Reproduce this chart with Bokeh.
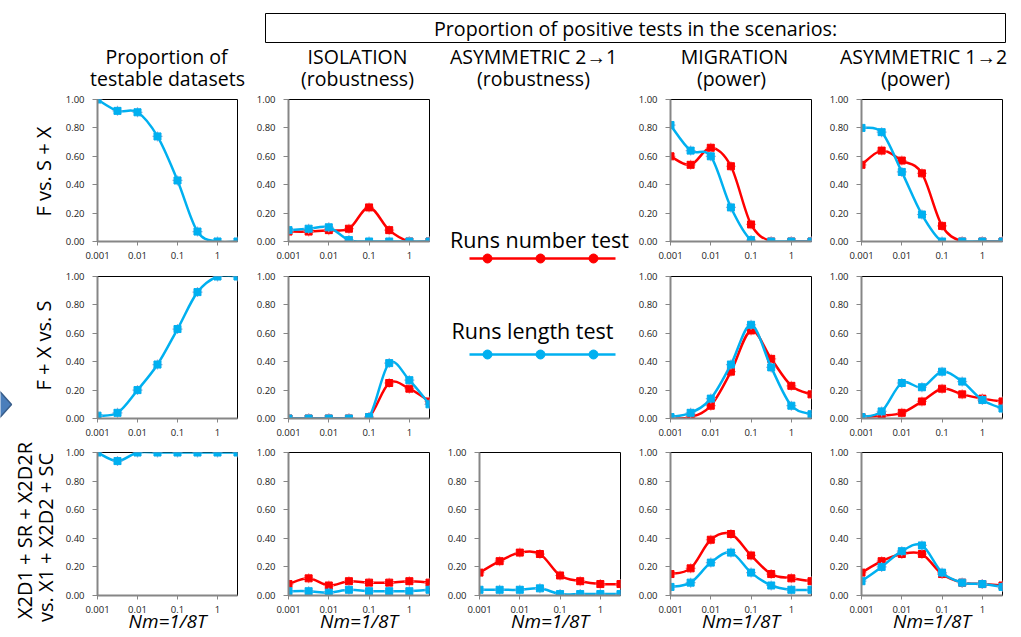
import math
from bokeh.plotting import figure
from bokeh.layouts import row, column
from bokeh.models import Range1d, FixedTicker, NumeralTickFormatter, CustomJSTickFormatter
from bokeh.core.properties import value
from bokeh.embed import file_html
from bokeh.resources import INLINE

# ---------------- data ----------------
nm = [0.001, 0.00316, 0.01, 0.0316, 0.1, 0.316, 1.0, 3.16]
x_ticks = [0.001, 0.01, 0.1, 1]
y_ticks = [0, 0.2, 0.4, 0.6, 0.8, 1.0]

row_labels = ["F vs. S + X", "F + X vs. S"]
row3_label_a = "X2D1 + SR + X2D2R"
row3_label_b = "vs. X1 + X2D2 + SC"
col_titles = [("Proportion of", "testable datasets"),
              ("ISOLATION", "(robustness)"),
              ("ASYMMETRIC 2\u21921", "(robustness)"),
              ("MIGRATION", "(power)"),
              ("ASYMMETRIC 1\u21922", "(power)")]
box_title = "Proportion of positive tests in the scenarios:"
legend_labels = ["Runs number test", "Runs length test"]
x_label = "Nm=1/8T"

# proportion of testable datasets
testable_1 = [1.00, 0.92, 0.91, 0.74, 0.43, 0.07, 0.00, 0.00]
testable_2 = [0.02, 0.04, 0.20, 0.38, 0.63, 0.89, 1.00, 1.00]
testable_3 = [1.00, 0.94, 1.00, 1.00, 1.00, 1.00, 1.00, 1.00]

# row 1: F vs. S + X
iso_number_1 = [0.07, 0.07, 0.08, 0.09, 0.24, 0.08, 0.00, 0.00]
iso_length_1 = [0.08, 0.09, 0.10, 0.01, 0.00, 0.00, 0.00, 0.00]
mig_number_1 = [0.60, 0.54, 0.66, 0.53, 0.12, 0.00, 0.00, 0.00]
mig_length_1 = [0.82, 0.64, 0.60, 0.24, 0.01, 0.00, 0.00, 0.00]
a12_number_1 = [0.54, 0.64, 0.57, 0.48, 0.11, 0.00, 0.00, 0.00]
a12_length_1 = [0.80, 0.77, 0.49, 0.19, 0.00, 0.00, 0.00, 0.00]

# row 2: F + X vs. S
iso_number_2 = [0.00, 0.00, 0.00, 0.00, 0.01, 0.25, 0.21, 0.12]
iso_length_2 = [0.00, 0.00, 0.00, 0.00, 0.01, 0.39, 0.27, 0.10]
mig_number_2 = [0.00, 0.01, 0.09, 0.33, 0.62, 0.42, 0.23, 0.17]
mig_length_2 = [0.01, 0.04, 0.14, 0.38, 0.66, 0.36, 0.09, 0.03]
a12_number_2 = [0.01, 0.02, 0.04, 0.12, 0.21, 0.17, 0.14, 0.12]
a12_length_2 = [0.01, 0.05, 0.25, 0.22, 0.33, 0.26, 0.13, 0.07]

# row 3: X2D1 + SR + X2D2R vs. X1 + X2D2 + SC
iso_number_3 = [0.08, 0.12, 0.07, 0.10, 0.09, 0.09, 0.10, 0.09]
iso_length_3 = [0.03, 0.03, 0.02, 0.04, 0.03, 0.03, 0.03, 0.04]
a21_number_3 = [0.16, 0.24, 0.30, 0.29, 0.14, 0.10, 0.08, 0.08]
a21_length_3 = [0.04, 0.04, 0.04, 0.05, 0.01, 0.01, 0.01, 0.01]
mig_number_3 = [0.15, 0.19, 0.39, 0.43, 0.28, 0.15, 0.12, 0.10]
mig_length_3 = [0.06, 0.09, 0.23, 0.30, 0.16, 0.07, 0.04, 0.04]
a12_number_3 = [0.16, 0.24, 0.29, 0.29, 0.15, 0.09, 0.08, 0.07]
a12_length_3 = [0.10, 0.20, 0.31, 0.35, 0.16, 0.09, 0.08, 0.06]

# ---------------- style ----------------
FONT = "Open Sans"
RED = "#FF0000"
BLUE = "#00B0F0"
RED_HALO = "#FF9090"
BLUE_HALO = "#A8A8D0"
AXIS_GRAY = "#868686"
TXT = "#000000"


def smooth_segments(xs, ys):
    """Excel-like smoothing: cubic Bezier control points (Catmull-Rom, 1/6)."""
    u = [math.log10(v) for v in xs]
    pts = list(zip(u, ys))
    n = len(pts)
    seg = dict(x0=[], y0=[], x1=[], y1=[], cx0=[], cy0=[], cx1=[], cy1=[])
    for i in range(n - 1):
        p0 = pts[i - 1] if i > 0 else pts[i]
        p1 = pts[i]
        p2 = pts[i + 1]
        p3 = pts[i + 2] if i + 2 < n else pts[i + 1]
        c0 = (p1[0] + (p2[0] - p0[0]) / 6.0, p1[1] + (p2[1] - p0[1]) / 6.0)
        c1 = (p2[0] - (p3[0] - p1[0]) / 6.0, p2[1] - (p3[1] - p1[1]) / 6.0)
        seg["x0"].append(10 ** p1[0]); seg["y0"].append(p1[1])
        seg["x1"].append(10 ** p2[0]); seg["y1"].append(p2[1])
        seg["cx0"].append(10 ** c0[0]); seg["cy0"].append(c0[1])
        seg["cx1"].append(10 ** c1[0]); seg["cy1"].append(c1[1])
    return seg


def panel(width, bl, br, height, bt, bb, series, with_xlabel=False):
    p = figure(width=width, height=height, x_axis_type="log",
               x_range=Range1d(0.001, 10 ** 0.5), y_range=Range1d(0, 1),
               toolbar_location=None, tools="", output_backend="svg", title=None,
               min_border_left=bl, min_border_right=br,
               min_border_top=bt, min_border_bottom=bb)
    p.grid.visible = False
    p.outline_line_color = "black"
    p.outline_line_width = 1
    p.background_fill_color = "white"
    p.border_fill_color = "white"

    xa = p.xaxis[0]
    ya = p.yaxis[0]
    xa.ticker = FixedTicker(ticks=x_ticks)
    xa.formatter = CustomJSTickFormatter(code="return tick.toString();")
    ya.ticker = FixedTicker(ticks=y_ticks)
    ya.formatter = NumeralTickFormatter(format="0.00")
    for ax in (xa, ya):
        ax.axis_line_color = AXIS_GRAY
        ax.axis_line_width = 2
        ax.major_tick_line_color = AXIS_GRAY
        ax.major_tick_line_width = 1
        ax.major_tick_in = 0
        ax.minor_tick_line_color = None
        ax.major_label_text_font = FONT
        ax.major_label_text_font_size = "9.5px"
        ax.major_label_text_color = "#222222"
    ya.major_tick_out = 5
    ya.major_label_standoff = 8
    xa.major_tick_out = 4
    xa.major_label_standoff = 6
    if with_xlabel:
        xa.axis_label = x_label
        xa.axis_label_text_font = FONT
        xa.axis_label_text_font_style = "italic"
        xa.axis_label_text_font_size = "19px"
        xa.axis_label_text_color = TXT
        xa.axis_label_standoff = -8

    for ys, color, halo in series:
        seg = smooth_segments(nm, ys)
        p.bezier(x0=seg["x0"], y0=seg["y0"], x1=seg["x1"], y1=seg["y1"],
                 cx0=seg["cx0"], cy0=seg["cy0"], cx1=seg["cx1"], cy1=seg["cy1"],
                 line_color=color, line_width=2.5)
        p.scatter(nm, ys, marker="asterisk", size=10, line_color=halo, line_width=1.2)
        p.scatter(nm, ys, marker="square", size=7, fill_color=color, line_color=color)
    return p


def blank(width, height, x0, x1, y_top, y_bottom, bt=0, bb=0):
    p = figure(width=width, height=height, x_range=Range1d(x0, x1),
               y_range=Range1d(y_bottom, y_top), x_axis_location=None,
               y_axis_location=None, toolbar_location=None, tools="",
               output_backend="svg", title=None, min_border_left=0,
               min_border_right=0, min_border_top=bt, min_border_bottom=bb)
    p.grid.visible = False
    p.outline_line_color = None
    p.background_fill_color = "white"
    p.border_fill_color = "white"
    return p


def txt(p, x, y, s, size, align="center", baseline="alphabetic", angle=0.0, style="normal"):
    p.text(x=[x], y=[y], text=[s], angle=angle, text_align=align,
           text_baseline=baseline, text_font=value(FONT),
           text_font_size=value(size), text_color=TXT, text_font_style=style)


# ---------------- geometry (page pixels, page origin at 0,0) ----------------
HEAD_H = 92                      # header: y 0..92
LEFT_W = 62                      # row-label strip: x 0..62
R1 = (177, 7, 28)                # height, top border, bottom border -> frame 99..241
R2 = (176, 7, 27)                # frame 276..418
R3 = (191, 7, 41)                # frame 452..595
TOP_Y = HEAD_H
TOTAL_H = R1[0] + R2[0] + R3[0]
BASE_FIX = 7                     # alphabetic-baseline correction of the text glyph

# header
head = blank(1016, HEAD_H, 0, 1016, 0, HEAD_H)
head.quad(left=[265], right=[1005], top=[13], bottom=[42],
          fill_color=None, line_color="black", line_width=1)
txt(head, 635, 35 - BASE_FIX, box_title, "19.7px")
centers1 = [166, 357, 533, 734, 923]
centers2 = [167, 357, 533, 731, 915]
for (t1, t2), c1, c2 in zip(col_titles, centers1, centers2):
    txt(head, c1, 63 - BASE_FIX, t1, "19.5px")
    txt(head, c2, 85 - BASE_FIX, t2, "19.5px")

# row labels strip
lab = blank(LEFT_W, TOTAL_H, 0, LEFT_W, TOP_Y, TOP_Y + TOTAL_H)
lab.patch(x=[-6, 11, -6], y=[385, 404, 423], fill_color="#4A7EBB", line_color="#385D8A", line_width=1.5)
txt(lab, 43, 171, row_labels[0], "20px", baseline="middle", angle=math.pi / 2)
txt(lab, 43, 345, row_labels[1], "20px", baseline="middle", angle=math.pi / 2)
txt(lab, 24, 530, row3_label_a, "20px", baseline="middle", angle=math.pi / 2)
txt(lab, 45, 537, row3_label_b, "20px", baseline="middle", angle=math.pi / 2)

blue_only = lambda ys: [(ys, BLUE, BLUE_HALO)]
pair = lambda a, b: [(a, RED, RED_HALO), (b, BLUE, BLUE_HALO)]


def col_pair(w, bl, br, s1, s2):
    return column(panel(w, bl, br, R1[0], R1[1], R1[2], s1),
                  panel(w, bl, br, R2[0], R2[1], R2[2], s2))


# legend block (column 3, rows 1-2); frame spans page y 99..418
leg_top = TOP_Y + R1[1]
leg_bottom = TOP_Y + R1[0] + R2[0] - R2[2]
leg = blank(202, R1[0] + R2[0], 430, 632, leg_top, leg_bottom, bt=R1[1], bb=R2[2])
txt(leg, 539, 246 - BASE_FIX, legend_labels[0], "21.5px")
leg.line([469, 615], [258, 258], line_color=RED, line_width=2.5)
leg.scatter([487, 540, 593], [258, 258, 258], marker="circle", size=9, fill_color=RED, line_color=RED)
txt(leg, 532, 337 - BASE_FIX, legend_labels[1], "21.5px")
leg.line([469, 615], [354, 354], line_color=BLUE, line_width=2.5)
leg.scatter([487, 540, 593], [354, 354, 354], marker="circle", size=9, fill_color=BLUE, line_color=BLUE)

top_block = row(
    col_pair(177, 34, 2, blue_only(testable_1), blue_only(testable_2)),
    col_pair(191, 49, 1, pair(iso_number_1, iso_length_1), pair(iso_number_2, iso_length_2)),
    leg,
    col_pair(180, 38, 1, pair(mig_number_1, mig_length_1), pair(mig_number_2, mig_length_2)),
    col_pair(195, 49, 5, pair(a12_number_1, a12_length_1), pair(a12_number_2, a12_length_2)),
)

bottom_row = row(
    panel(177, 34, 2, R3[0], R3[1], R3[2], blue_only(testable_3), True),
    panel(191, 49, 1, R3[0], R3[1], R3[2], pair(iso_number_3, iso_length_3), True),
    panel(191, 49, 1, R3[0], R3[1], R3[2], pair(a21_number_3, a21_length_3), True),
    panel(191, 49, 1, R3[0], R3[1], R3[2], pair(mig_number_3, mig_length_3), True),
    panel(195, 49, 5, R3[0], R3[1], R3[2], pair(a12_number_3, a12_length_3), True),
)

layout = column(head, row(lab, column(top_block, bottom_row)))

open("out.html", "w").write(file_html(layout, INLINE))
